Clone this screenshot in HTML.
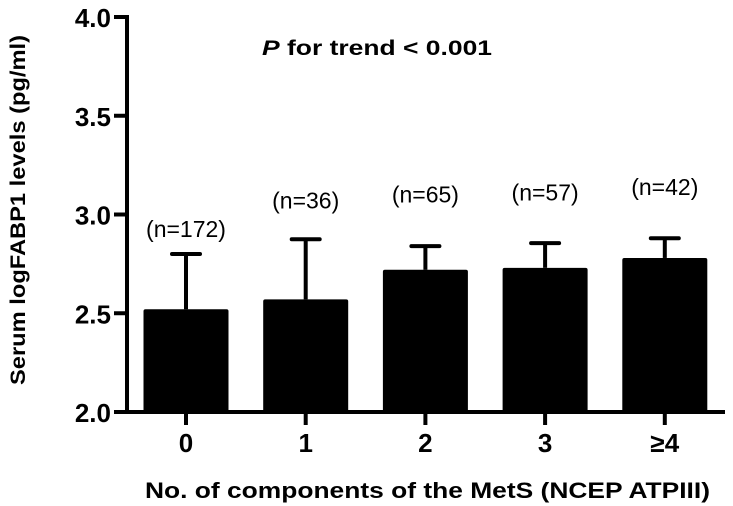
<!DOCTYPE html>
<html><head><meta charset="utf-8"><style>
html,body{margin:0;padding:0;background:#fff;}
svg{display:block;font-family:"Liberation Sans",Arial,sans-serif;}
</style></head><body>
<svg id="chart" width="733" height="506" viewBox="0 0 733 506" xmlns="http://www.w3.org/2000/svg">
<g id="plot"></g>
</svg>
<script>
const categories = ["0","1","2","3","≥4"];
const means = [2.52, 2.57, 2.72, 2.73, 2.78];
const upperErr = [2.80, 2.875, 2.84, 2.855, 2.88];
const nLabels = ["(n=172)","(n=36)","(n=65)","(n=57)","(n=42)"];
const nLabelY = [2.886, 3.03, 3.06, 3.07, 3.10];
const yTicks = [2.0, 2.5, 3.0, 3.5, 4.0];
const yTickLabels = ["2.0","2.5","3.0","3.5","4.0"];

const NS = "http://www.w3.org/2000/svg";
const g = document.getElementById("plot");
const x0 = 127, yBase = 412, pxPerUnit = 197.5;
const y = v => yBase - (v - 2.0) * pxPerUnit;
const xc = i => 186 + i * 119.7;
const barW = 85, capW = 28;
function el(tag, attrs, text){
  const e = document.createElementNS(NS, tag);
  for (const k in attrs) e.setAttribute(k, attrs[k]);
  if (text !== undefined) e.textContent = text;
  g.appendChild(e);
  return e;
}
categories.forEach((c, i) => {
  const cx = xc(i);
  const eb = el("line", {x1: cx, x2: cx, y1: y(upperErr[i]), y2: y(means[i]), stroke: "#000", "stroke-width": 4});
  
  
  const cap = el("line", {x1: cx - capW/2, x2: cx + capW/2, y1: y(upperErr[i]), y2: y(upperErr[i]), stroke: "#000", "stroke-width": 4, "stroke-linecap": "round"});
  
  
  const b = el("rect", {x: cx - barW/2, y: y(means[i]), width: barW, height: yBase - y(means[i]), fill: "#000", rx: 2});
  
  
  const n = el("text", {x: cx, y: y(nLabelY[i]), "text-anchor": "middle", "font-size": 23}, nLabels[i]);
  
  
  const t = el("line", {x1: cx, x2: cx, y1: yBase, y2: yBase + 13, stroke: "#000", "stroke-width": 4});
  
  
  const tl = el("text", {x: cx, y: 452, "text-anchor": "middle", "font-size": 26, "font-weight": "bold"}, c);
  
  
});
yTicks.forEach((v, i) => {
  const t = el("line", {x1: x0 - 13, x2: x0, y1: y(v), y2: y(v), stroke: "#000", "stroke-width": 4});
  
  
  const tl = el("text", {x: x0 - 16, y: y(v) + 10, "text-anchor": "end", "font-size": 26, "font-weight": "bold"}, yTickLabels[i]);
  
  
});
const ya = el("line", {x1: x0, x2: x0, y1: y(4.0) - 2, y2: yBase + 2, stroke: "#000", "stroke-width": 4});


const xa = el("line", {x1: x0, x2: 725, y1: yBase, y2: yBase, stroke: "#000", "stroke-width": 4});


const xt = el("text", {x: 145, y: 498, "font-size": 22, "font-weight": "bold", textLength: 565, lengthAdjust: "spacingAndGlyphs"}, "No. of components of the MetS (NCEP ATPIII)");


const yt = el("text", {x: 0, y: 0, "font-size": 21, "font-weight": "bold", textLength: 350, lengthAdjust: "spacingAndGlyphs", transform: "translate(25,385) rotate(-90)"}, "Serum logFABP1 levels (pg/ml)");


const p = el("text", {x: 262, y: 55, "font-size": 21, "font-weight": "bold", textLength: 230, lengthAdjust: "spacingAndGlyphs"});


const ps = document.createElementNS(NS, "tspan"); ps.setAttribute("font-style", "italic"); ps.textContent = "P"; p.appendChild(ps);
const ps2 = document.createElementNS(NS, "tspan"); ps2.textContent = " for trend < 0.001"; p.appendChild(ps2);
</script>
</body></html>
